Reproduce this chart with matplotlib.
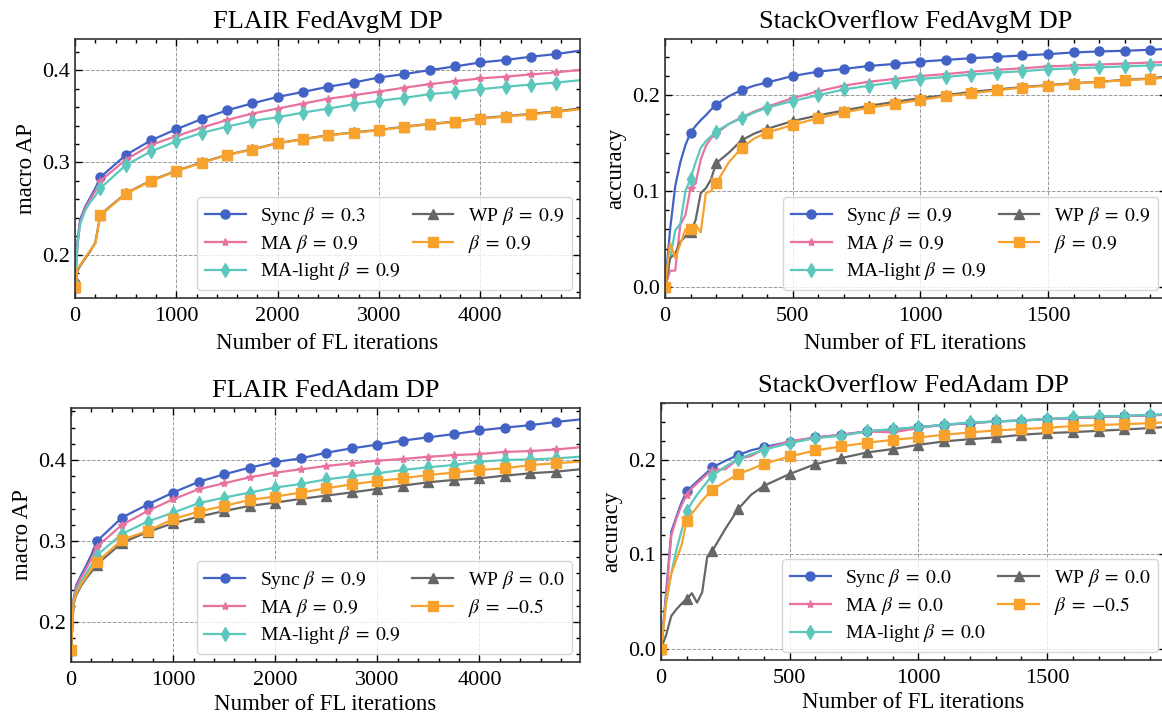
import matplotlib
matplotlib.use('Agg')
import matplotlib.pyplot as plt
from matplotlib.ticker import AutoMinorLocator

plt.rcParams['font.family'] = 'serif'
plt.rcParams['font.serif'] = ['Liberation Serif', 'DejaVu Serif']
plt.rcParams['mathtext.fontset'] = 'stix'

# FLAIR iteration grid (markers every 250)
flair_x = [0, 25, 50, 100, 150, 200] + list(range(250, 5000, 250)) + [4980]
# StackOverflow iteration grid (markers every 100)
so_x = [0, 20, 40, 60, 80, 100, 120, 140, 160, 180, 200, 250, 300, 350, 400] \
    + list(range(500, 2000, 100)) + [1950]

# FLAIR FedAvgM DP
fa_sync = [0.170, 0.215, 0.238, 0.252, 0.262, 0.272, 0.284, 0.308, 0.324, 0.336, 0.347, 0.3565, 0.364,
           0.371, 0.3764, 0.382, 0.3866, 0.392, 0.3957, 0.400, 0.404, 0.4083, 0.411, 0.4145, 0.4174, 0.421]
fa_ma = [0.170, 0.212, 0.235, 0.250, 0.260, 0.269, 0.280, 0.303, 0.319, 0.3286, 0.3377, 0.346, 0.353,
         0.3584, 0.3638, 0.369, 0.3728, 0.3768, 0.381, 0.3848, 0.388, 0.391, 0.393, 0.3953, 0.3975, 0.4003]
fa_mal = [0.170, 0.210, 0.233, 0.248, 0.257, 0.264, 0.272, 0.297, 0.312, 0.323, 0.332, 0.3388, 0.345,
          0.349, 0.354, 0.3584, 0.363, 0.3667, 0.370, 0.374, 0.3764, 0.3793, 0.382, 0.3844, 0.3866, 0.389]
fa_wp = [0.165, 0.183, 0.188, 0.196, 0.204, 0.213, 0.2435, 0.2665, 0.2805, 0.291, 0.300, 0.3083, 0.3143,
         0.321, 0.3253, 0.3296, 0.3326, 0.3352, 0.3388, 0.3417, 0.3442, 0.348, 0.3502, 0.3526, 0.3553, 0.3585]
fa_beta = [0.165, 0.185, 0.189, 0.197, 0.205, 0.212, 0.2427, 0.266, 0.280, 0.2906, 0.2996, 0.308, 0.314,
           0.3207, 0.325, 0.3293, 0.3323, 0.3348, 0.3384, 0.3413, 0.3438, 0.3475, 0.3497, 0.352, 0.3547, 0.3576]

# FLAIR FedAdam DP
fd_sync = [0.165, 0.228, 0.245, 0.258, 0.270, 0.283, 0.2994, 0.329, 0.345, 0.3598, 0.373, 0.3823, 0.3906,
           0.3975, 0.402, 0.409, 0.4144, 0.419, 0.424, 0.428, 0.432, 0.4365, 0.440, 0.443, 0.447, 0.450]
fd_ma = [0.165, 0.226, 0.242, 0.255, 0.266, 0.278, 0.2924, 0.320, 0.337, 0.3515, 0.3639, 0.3713, 0.3786,
         0.3844, 0.3885, 0.3926, 0.3959, 0.3992, 0.4012, 0.404, 0.406, 0.4074, 0.410, 0.411, 0.413, 0.4156]
fd_mal = [0.165, 0.224, 0.238, 0.250, 0.260, 0.270, 0.282, 0.3088, 0.324, 0.335, 0.3466, 0.3536, 0.3598,
          0.366, 0.3704, 0.376, 0.380, 0.3836, 0.3877, 0.391, 0.3938, 0.398, 0.400, 0.4008, 0.402, 0.404]
fd_wp = [0.165, 0.222, 0.233, 0.245, 0.254, 0.262, 0.2706, 0.298, 0.311, 0.322, 0.330, 0.337, 0.3433,
         0.3474, 0.352, 0.356, 0.360, 0.3643, 0.3684, 0.3725, 0.3754, 0.3774, 0.3807, 0.3836, 0.3856, 0.3885]
fd_beta = [0.165, 0.223, 0.235, 0.247, 0.256, 0.265, 0.2735, 0.3014, 0.3125, 0.3269, 0.3363, 0.3433, 0.3507,
           0.3548, 0.3598, 0.365, 0.370, 0.3741, 0.3774, 0.3815, 0.3844, 0.3877, 0.3897, 0.3938, 0.396, 0.398]

# StackOverflow FedAvgM DP
sa_sync = [0.0, 0.06, 0.105, 0.13, 0.148, 0.161, 0.168, 0.174, 0.179, 0.185, 0.190, 0.199, 0.2053, 0.21,
           0.2133, 0.220, 0.2246, 0.2274, 0.2305, 0.2326, 0.235, 0.2368, 0.2386, 0.240, 0.2414, 0.2428,
           0.2446, 0.2456, 0.2463, 0.2474, 0.248]
sa_ma = [0.0, 0.017, 0.017, 0.065, 0.075, 0.103, 0.108, 0.133, 0.147, 0.155, 0.160, 0.170, 0.177, 0.183,
         0.188, 0.197, 0.204, 0.21, 0.214, 0.217, 0.22, 0.222, 0.2245, 0.2265, 0.228, 0.23, 0.231, 0.232,
         0.233, 0.234, 0.2345]
sa_mal = [0.0, 0.03, 0.059, 0.066, 0.10, 0.113, 0.13, 0.145, 0.152, 0.157, 0.162, 0.170, 0.176, 0.182,
          0.187, 0.194, 0.200, 0.206, 0.210, 0.2135, 0.217, 0.219, 0.2215, 0.2235, 0.225, 0.227, 0.228,
          0.229, 0.230, 0.231, 0.2315]
sa_wp = [0.0, 0.03, 0.035, 0.047, 0.053, 0.057, 0.07, 0.098, 0.103, 0.112, 0.129, 0.14, 0.153, 0.16,
         0.165, 0.173, 0.179, 0.184, 0.189, 0.193, 0.197, 0.200, 0.2035, 0.206, 0.2085, 0.2105, 0.2125,
         0.214, 0.216, 0.2175, 0.219]
sa_beta = [0.0, 0.046, 0.03, 0.045, 0.06, 0.06, 0.065, 0.057, 0.098, 0.10, 0.108, 0.13, 0.145, 0.155,
           0.161, 0.169, 0.176, 0.182, 0.187, 0.191, 0.195, 0.199, 0.202, 0.205, 0.208, 0.210, 0.212,
           0.214, 0.2155, 0.217, 0.218]

# StackOverflow FedAdam DP
sd_sync = [0.0, 0.06, 0.124, 0.14, 0.155, 0.1665, 0.172, 0.177, 0.182, 0.187, 0.192, 0.199, 0.205, 0.21,
           0.2134, 0.219, 0.2236, 0.2264, 0.230, 0.232, 0.2345, 0.237, 0.2387, 0.2405, 0.2415, 0.243,
           0.244, 0.245, 0.2462, 0.247, 0.2475]
sd_ma = [0.0, 0.055, 0.12, 0.138, 0.152, 0.163, 0.17, 0.175, 0.18, 0.185, 0.1894, 0.19, 0.2007, 0.204,
         0.2113, 0.2194, 0.2236, 0.2264, 0.230, 0.2289, 0.2335, 0.237, 0.2387, 0.2405, 0.2415, 0.243,
         0.244, 0.245, 0.2462, 0.247, 0.2475]
sd_mal = [0.0, 0.05, 0.08, 0.105, 0.125, 0.1454, 0.155, 0.163, 0.17, 0.177, 0.183, 0.193, 0.2007, 0.206,
          0.2106, 0.2176, 0.2229, 0.2254, 0.230, 0.2324, 0.2342, 0.237, 0.2394, 0.2405, 0.2415, 0.243,
          0.2447, 0.2458, 0.2465, 0.2475, 0.248]
sd_wp = [0.0, 0.015, 0.035, 0.042, 0.048, 0.0528, 0.059, 0.049, 0.06, 0.098, 0.104, 0.127, 0.148, 0.163,
         0.1725, 0.185, 0.1954, 0.2018, 0.2077, 0.2113, 0.2158, 0.2194, 0.2218, 0.2236, 0.2264, 0.2282,
         0.2292, 0.2306, 0.232, 0.2335, 0.2345]
sd_beta = [0.0, 0.05, 0.08, 0.095, 0.11, 0.1356, 0.143, 0.15, 0.157, 0.163, 0.1683, 0.177, 0.1849, 0.19,
           0.1958, 0.2035, 0.2099, 0.2141, 0.218, 0.221, 0.2236, 0.2264, 0.2289, 0.231, 0.2324, 0.2338,
           0.2356, 0.2366, 0.2377, 0.2387, 0.2395]

colors = ['#4262c6', '#e8729f', '#5cc8bd', '#666666', '#f8a22e']
markers = ['o', '*', 'd', '^', 's']
msizes = [6.5, 6, 7.5, 6.5, 6.5]


def beta(v):
    return r'$\beta\;=\;' + v + '$'


panels = [
    dict(title='FLAIR FedAvgM DP', x=flair_x, step=250, ylabel='macro AP',
         series=[fa_sync, fa_ma, fa_mal, fa_wp, fa_beta],
         labels=['Sync ' + beta('0.3'), 'MA ' + beta('0.9'), 'MA-light ' + beta('0.9'),
                 'WP ' + beta('0.9'), beta('0.9')],
         rect=(75, 39, 580, 298), xlim=(0, 4985), ylim=(0.1533, 0.4337), lpad=5,
         xticks=[0, 1000, 2000, 3000, 4000], yticks=[0.2, 0.3, 0.4]),
    dict(title='StackOverflow FedAvgM DP', x=so_x, step=100, ylabel='accuracy',
         series=[sa_sync, sa_ma, sa_mal, sa_wp, sa_beta],
         labels=['Sync ' + beta('0.9'), 'MA ' + beta('0.9'), 'MA-light ' + beta('0.9'),
                 'WP ' + beta('0.9'), beta('0.9')],
         rect=(665, 39, 1166, 298), xlim=(0, 1962), ylim=(-0.0115, 0.2586), lpad=5,
         xticks=[0, 500, 1000, 1500], yticks=[0.0, 0.1, 0.2]),
    dict(title='FLAIR FedAdam DP', x=flair_x, step=250, ylabel='macro AP',
         series=[fd_sync, fd_ma, fd_mal, fd_wp, fd_beta],
         labels=['Sync ' + beta('0.9'), 'MA ' + beta('0.9'), 'MA-light ' + beta('0.9'),
                 'WP ' + beta('0.0'), beta('{-}0.5')],
         rect=(71, 408, 580, 662), xlim=(0, 4985), ylim=(0.1506, 0.4642), lpad=2.5,
         xticks=[0, 1000, 2000, 3000, 4000], yticks=[0.2, 0.3, 0.4]),
    dict(title='StackOverflow FedAdam DP', x=so_x, step=100, ylabel='accuracy',
         series=[sd_sync, sd_ma, sd_mal, sd_wp, sd_beta],
         labels=['Sync ' + beta('0.0'), 'MA ' + beta('0.0'), 'MA-light ' + beta('0.0'),
                 'WP ' + beta('0.0'), beta('{-}0.5')],
         rect=(661, 403, 1166, 660), xlim=(0, 1962), ylim=(-0.0116, 0.260), lpad=2.5,
         xticks=[0, 500, 1000, 1500], yticks=[0.0, 0.1, 0.2]),
]

W, H = 1162, 715
fig = plt.figure(figsize=(W / 100, H / 100), dpi=100)

for p in panels:
    l, t, r, b = p['rect']
    ax = fig.add_axes([l / W, 1 - b / H, (r - l) / W, (b - t) / H])
    mk = [i for i, v in enumerate(p['x']) if v % p['step'] == 0]
    for ys, lab, c, m, ms in zip(p['series'], p['labels'], colors, markers, msizes):
        ax.plot(p['x'], ys, color=c, marker=m, markersize=ms, markevery=mk, lw=1.6, label=lab)
    ax.set_xlim(*p['xlim'])
    ax.set_ylim(*p['ylim'])
    ax.set_xticks(p['xticks'])
    ax.set_yticks(p['yticks'])
    ax.xaxis.set_minor_locator(AutoMinorLocator(5))
    ax.yaxis.set_minor_locator(AutoMinorLocator(5))
    ax.tick_params(which='both', direction='in', top=True, right=True, labelsize=16, width=1.0)
    ax.tick_params(which='major', length=5)
    ax.tick_params(which='minor', length=3)
    ax.tick_params(axis='x', which='major', pad=6.5)
    for s in ax.spines.values():
        s.set_linewidth(1.2)
        s.set_color('#333333')
    ax.grid(True, which='major', ls='--', lw=0.7, color='#999999')
    ax.set_axisbelow(True)
    ax.set_title(p['title'], fontsize=19, pad=8)
    ax.set_xlabel('Number of FL iterations', fontsize=16.5, labelpad=p['lpad'])
    ax.set_ylabel(p['ylabel'], fontsize=16.5)
    ax.legend(loc='lower right', ncol=2, fontsize=14, handlelength=2.1, handletextpad=0.75,
              labelspacing=0.3, columnspacing=0.6, borderaxespad=0.4, borderpad=0.4)

fig.savefig('out.png', dpi=100)
